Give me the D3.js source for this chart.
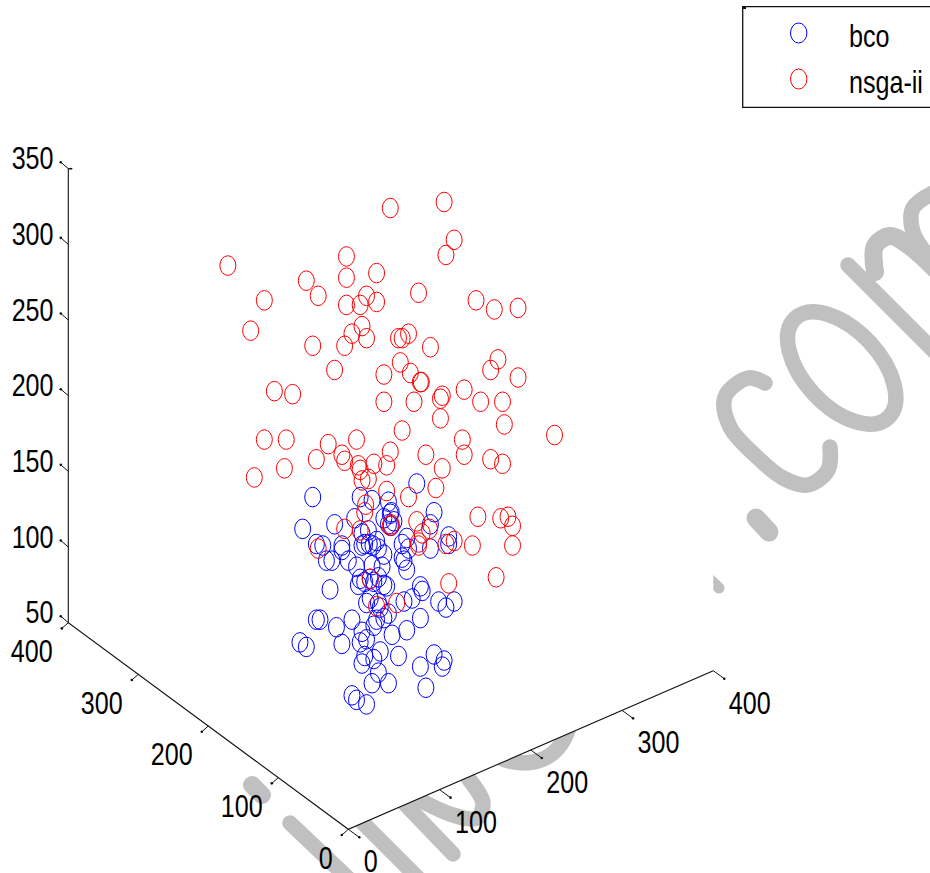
<!DOCTYPE html>
<html>
<head>
<meta charset="utf-8">
<title>bco vs nsga-ii</title>
<script src="https://d3js.org/d3.v7.min.js"></script>
<style>
html, body { margin: 0; padding: 0; background: #fff; }
svg { display: block; }
text { font-family: "Liberation Sans", Arial, sans-serif; font-size: 31px; fill: #000; }
</style>
</head>
<body>
<svg id="chart" width="930" height="873"></svg>
<script>

// Tick labels of the three axes
var xTicks = [0, 100, 200, 300, 400];
var yTicks = [0, 100, 200, 300, 400];
var zTicks = [50, 100, 150, 200, 250, 300, 350];

var seriesNames = ["bco", "nsga-ii"];
var seriesColors = ["#0000ff", "#ff0000"];

// The picture is a flat view of a 3D cloud, so depth can't be read back.
// "across" is read along the x axis scale, "height" against the z axis scale.
var bcoAcross = [75,-39,13,26,44,94,90,-50,-15,7,39,46,47,50,44,47,22,15,31,23,15,18,27,33,39,64,59,66,59,61,64,90,110,110,-35,-28,-7,-7,-24,-18,0,9,26,37,-20,13,11,18,24,28,33,42,39,79,81,70,61,99,116,107,79,20,24,33,35,44,39,31,28,64,48,-35,-31,-13,4,15,20,13,-7,-53,-46,18,15,28,35,55,33,26,44,79,94,105,103,85,4,9,20];
var bcoHeight = [142,133,133,131,130,123,115,112,115,119,119,122,123,117,115,114,111,109,104,102,101,102,101,99,95,106,102,99,93,91,85,99,107,102,102,101,101,98,91,91,91,87,88,87,72,79,75,77,79,77,80,74,75,74,71,66,64,64,64,60,53,63,66,63,60,56,53,52,48,45,42,52,52,47,52,44,39,37,36,37,34,28,23,26,31,28,17,10,10,21,29,25,21,7,2,-1,-4];

var nsgaAcross = [46,105,116,107,-132,-2,-2,-46,31,-33,-92,-2,13,20,31,77,140,160,186,-107,15,4,20,-4,-39,55,59,66,90,57,-15,39,68,79,80,164,156,186,-81,-61,39,72,103,101,127,145,169,101,171,59,226,-92,-68,-22,9,125,46,127,85,-7,-4,-35,156,169,103,-70,-103,28,42,11,13,15,22,42,66,96,142,167,175,180,180,136,162,110,116,107,77,77,81,89,75,46,47,13,-4,-33,19,18,24,31,53];
var nsgaHeight = [324,328,303,293,286,292,278,276,281,266,263,260,260,266,262,268,263,257,258,243,246,241,238,233,233,238,238,241,232,222,217,214,215,209,209,224,217,212,203,201,196,196,200,198,204,196,196,185,181,177,174,171,171,168,171,171,163,161,161,161,157,158,158,155,152,152,146,155,154,154,151,144,145,137,133,139,120,119,120,114,101,101,80,76,104,102,103,101,109,112,117,114,115,111,112,99,128,123,79,61,63];

var bco = bcoAcross.map(function (a, i) { return {across: a, height: bcoHeight[i]}; });
var nsga = nsgaAcross.map(function (a, i) { return {across: a, height: nsgaHeight[i]}; });

var svg = d3.select("#chart");

// Layout of the box corners on the page
var origin = [348.3, 829.3];
var xEnd = [713.3, 670.7];
var yEnd = [68.3, 622.7];
var zTop = 168.7;

// Axis scales, one per screen direction
var xAxisX = d3.scaleLinear().domain([0, 400]).range([origin[0], xEnd[0]]);
var xAxisY = d3.scaleLinear().domain([0, 400]).range([origin[1], xEnd[1]]);
var yAxisX = d3.scaleLinear().domain([0, 400]).range([origin[0], yEnd[0]]);
var yAxisY = d3.scaleLinear().domain([0, 400]).range([origin[1], yEnd[1]]);
var zScale = d3.scaleLinear().domain([50, 350]).range([yEnd[1], zTop]);

// Text in the picture is stretched, taller than wide
var textSquash = 0.81;
function placeText(sel, fx, fy) {
	sel.attr("transform", function (d) {
		return "translate(" + fx(d) + "," + fy(d) + ") scale(" + textSquash + ",1)";
	});
}

// Watermark, sits behind the axes box
var grey = "#c0c0c0";
var strokes = svg.append("g").attr("class", "watermark")
	.attr("fill", "none")
	.attr("stroke", grey)
	.attr("stroke-width", 15.5)
	.attr("stroke-linecap", "round")
	.attr("stroke-linejoin", "round");
var curved = d3.line().curve(d3.curveCatmullRom.alpha(0.5));

var wmPaths = [
	[[765,383],[748,378],[725,397],[730,427],[757,457],[783,478],[808,485],[828,470],[830,447]], // c
	[[935,192],[913,208],[913,232],[928,256]], // m arch 2
	[[848,265],[935,352]], // m stem
	[[290,823],[350,880]],
	[[350,810],[420,880]],
	[[380,778],[453,854]],
	[[468,778],[483,803],[477,818],[453,815],[420,800]],
	[[490,750],[505,760],[533,762],[553,753],[567,733],[570,715]]
];
strokes.selectAll("path.wm")
	.data(wmPaths)
	.enter()
	.append("path")
		.attr("class", "wm")
		.attr("d", function (d) { return curved(d); });

// m arch 1 gets heavier where it runs into the next stem
strokes.append("path")
	.attr("d", curved([[875,272],[875,246],[890,236],[908,245],[938,272]]))
	.attr("stroke-width", 18);

strokes.append("ellipse")
	.attr("rx", 68).attr("ry", 38)
	.attr("transform", "translate(841.7,368) rotate(47)");
strokes.append("line")
	.attr("x1", 756).attr("y1", 518).attr("x2", 769).attr("y2", 532)
	.attr("stroke-width", 19);
strokes.append("line")
	.attr("x1", 252).attr("y1", 785).attr("x2", 262).attr("y2", 795)
	.attr("stroke-width", 18);
strokes.append("line")
	.attr("x1", 700).attr("y1", 570).attr("x2", 719).attr("y2", 588)
	.attr("stroke-width", 11);

// White face of the axes, hides the watermark inside the box
svg.append("path")
	.attr("fill", "#fff")
	.attr("d", d3.line()([[yEnd[0], zTop], [xEnd[0], zTop], xEnd, origin, yEnd]) + "Z");

// Axis lines
var axes = svg.append("g").attr("stroke", "#111").attr("stroke-width", 1.1).attr("fill", "none");
axes.append("path").attr("d", d3.line()([[yEnd[0], zTop], yEnd, origin, xEnd]));

function drawTicks(ticks, fx, fy, dx, dy) {
	var g = svg.append("g");
	g.selectAll("line")
		.data(ticks)
		.enter()
		.append("line")
			.attr("x1", fx).attr("y1", fy)
			.attr("x2", function (d) { return fx(d) + dx; })
			.attr("y2", function (d) { return fy(d) + dy; })
			.attr("stroke", "#111")
			.attr("stroke-width", 1);
	g.selectAll("circle")
		.data(ticks)
		.enter()
		.append("circle")
			.attr("cx", function (d) { return fx(d) + dx; })
			.attr("cy", function (d) { return fy(d) + dy; })
			.attr("r", 1.3)
			.attr("fill", "#111");
}
drawTicks(xTicks, xAxisX, xAxisY, 11, 8);
drawTicks(yTicks, yAxisX, yAxisY, -6.5, 5.7);
drawTicks(zTicks, function () { return yEnd[0]; }, zScale, -7.5, -6.5);

// little stub at the top of the z axis
svg.append("line")
	.attr("x1", yEnd[0]).attr("y1", zTop).attr("x2", yEnd[0] + 4).attr("y2", zTop)
	.attr("stroke", "#111").attr("stroke-width", 1.6);

// Tick labels
function drawLabels(ticks, anchor, fx, fy) {
	svg.append("g").selectAll("text")
		.data(ticks)
		.enter()
		.append("text")
			.attr("text-anchor", anchor)
			.text(function (d) { return d; })
			.call(placeText, fx, fy);
}
drawLabels(xTicks, "start",
	function (d) { return xAxisX(d) + 15.5; },
	function (d) { return xAxisY(d) + 43; });
drawLabels(yTicks, "end",
	function (d) { return yAxisX(d) - 15.6; },
	function (d) { return yAxisY(d) + 39.4; });
drawLabels(zTicks, "end",
	function () { return 53.5; },
	function (d) { return zScale(d) + 0.5; });

// Points, bco first so nsga-ii lies over it
var acrossScale = xAxisX;
var heightScale = zScale;
function drawSeries(data, color) {
	svg.append("g").selectAll("ellipse")
		.data(data)
		.enter()
		.append("ellipse")
			.attr("cx", function (d) { return acrossScale(d.across); })
			.attr("cy", function (d) { return heightScale(d.height); })
			.attr("rx", 8)
			.attr("ry", 9.8)
			.attr("fill", "none")
			.attr("stroke", color)
			.attr("stroke-width", 1);
}
drawSeries(bco, seriesColors[0]);
drawSeries(nsga, seriesColors[1]);

// Legend, its right edge runs off the page
var legend = svg.append("g");
legend.append("path")
	.attr("d", "M935,6.7H742.7V107.3H935")
	.attr("fill", "#fff")
	.attr("stroke", "#111")
	.attr("stroke-width", 1.3);
legend.append("rect")
	.attr("x", 743).attr("y", 6.5).attr("width", 3).attr("height", 2.5).attr("fill", "#111");

var legendY = d3.scalePoint().domain(seriesNames).range([33, 79]);
legend.selectAll("ellipse")
	.data(seriesNames)
	.enter()
	.append("ellipse")
		.attr("cx", 798.7)
		.attr("cy", function (d) { return legendY(d); })
		.attr("rx", 8.2)
		.attr("ry", 10)
		.attr("fill", "none")
		.attr("stroke", function (d, i) { return seriesColors[i]; })
		.attr("stroke-width", 1);
legend.selectAll("text")
	.data(seriesNames)
	.enter()
	.append("text")
		.text(function (d) { return d; })
		.call(placeText, function () { return 849; }, function (d) { return legendY(d) + 14; });

</script>
</body>
</html>
